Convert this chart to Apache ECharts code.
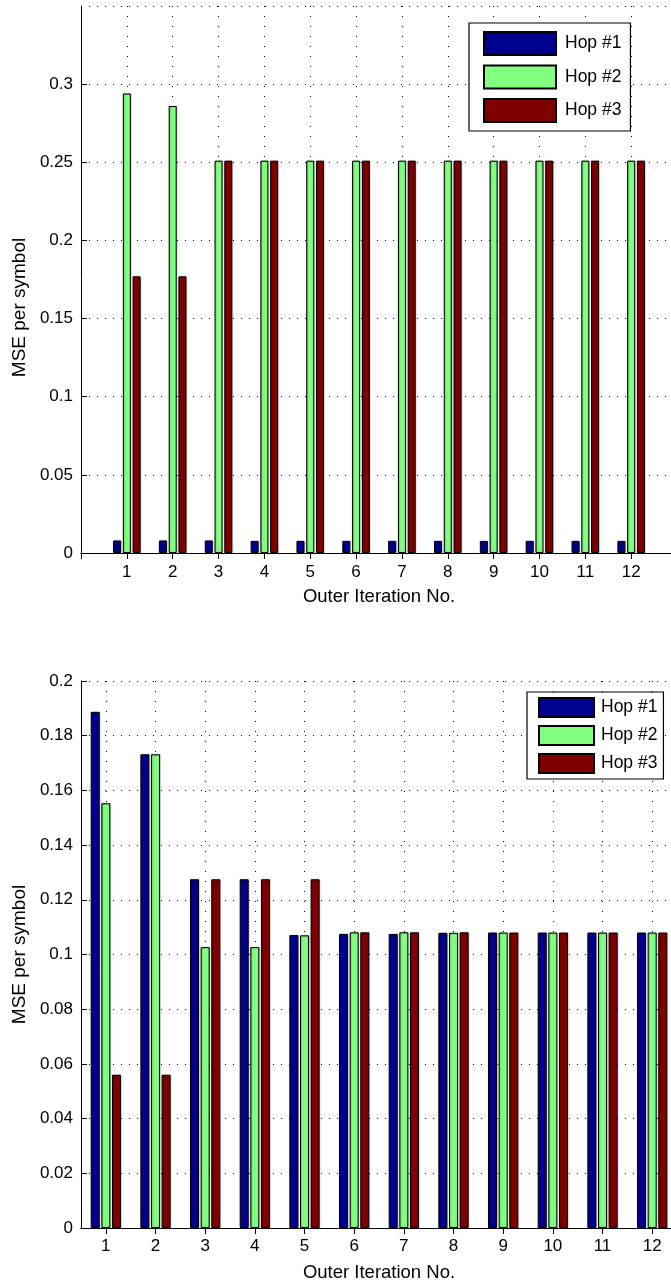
<!DOCTYPE html>
<html>
<head>
<meta charset="utf-8">
<script src="https://cdn.jsdelivr.net/npm/echarts@6/dist/echarts.min.js"></script>
<style>
  html, body { margin: 0; padding: 0; background: #fff; }
  #chart { width: 671px; height: 1286px; }
</style>
</head>
<body>
<div id="chart"></div>
<script>
// ---- data ----
const categories = ['1','2','3','4','5','6','7','8','9','10','11','12'];
const seriesNames = ['Hop #1', 'Hop #2', 'Hop #3'];

// Top chart (MSE per symbol)
const topHop1 = [0.0080, 0.0080, 0.0080, 0.0077, 0.0077, 0.0077, 0.0077, 0.0077, 0.0077, 0.0077, 0.0077, 0.0077];
const topHop2 = [0.294, 0.286, 0.251, 0.251, 0.251, 0.251, 0.251, 0.251, 0.251, 0.251, 0.251, 0.251];
const topHop3 = [0.177, 0.177, 0.251, 0.251, 0.251, 0.251, 0.251, 0.251, 0.251, 0.251, 0.251, 0.251];

// Bottom chart (MSE per symbol)
const botHop1 = [0.1887, 0.1732, 0.1275, 0.1275, 0.1071, 0.1075, 0.1075, 0.1079, 0.1080, 0.1080, 0.1080, 0.1080];
const botHop2 = [0.1553, 0.1732, 0.1027, 0.1027, 0.1070, 0.1081, 0.1081, 0.1079, 0.1080, 0.1080, 0.1080, 0.1080];
const botHop3 = [0.0560, 0.0560, 0.1275, 0.1275, 0.1275, 0.1081, 0.1081, 0.1081, 0.1080, 0.1080, 0.1080, 0.1080];

const yTitle = 'MSE per symbol';
const xTitle = 'Outer Iteration No.';

// ---- styling ----
const colors = ['#00008F', '#80FF80', '#800000'];
const FONT = '"Liberation Sans", Arial, Helvetica, sans-serif';
const gridDotH = { color: '#000', width: 1, type: [1, 7] };
const gridDotV = { color: '#000', width: 1, type: [1, 9] };

// top chart uses x-range [0,13]: pad categories with empty slots at both ends
const topCats = [''].concat(categories, ['']);
const pad = arr => ['-'].concat(arr, ['-']);

const chart = echarts.init(document.getElementById('chart'), null, { renderer: 'canvas' });

function mkSeries(name, data, idx, xi, yi, bw, gap) {
  return {
    type: 'bar', name: name, data: data,
    xAxisIndex: xi, yAxisIndex: yi,
    barWidth: bw, barGap: gap,
    itemStyle: { color: colors[idx], borderColor: '#000', borderWidth: 1,
                 shadowColor: 'rgba(0,0,0,0.35)', shadowBlur: 1.5, shadowOffsetX: 0.5 },
    emphasis: { disabled: true },
    animation: false
  };
}

const tickLabel = { color: '#000', fontFamily: FONT, fontSize: 17 };
const axisLine = { show: true, lineStyle: { color: '#000', width: 1 } };

const option = {
  animation: false,
  grid: [
    { left: 81, top: 6, width: 596, height: 547, containLabel: false, outerBoundsMode: 'none' },
    { left: 81, top: 681, width: 596, height: 547, containLabel: false, outerBoundsMode: 'none' }
  ],
  legend: [
    {
      data: seriesNames, orient: 'vertical', left: 469, top: 23,
      itemWidth: 72, itemHeight: 23, itemGap: 8.5,
      padding: [8, 9, 8, 14],
      borderColor: '#000', borderWidth: 1.2, backgroundColor: '#fff',
      icon: 'rect', selectedMode: false,
      textStyle: { color: '#000', fontFamily: FONT, fontSize: 17.5, width: 74, padding: [0, 0, 0, 4] }
    },
    {
      data: seriesNames, orient: 'vertical', left: 527, top: 692,
      itemWidth: 55, itemHeight: 19, itemGap: 7,
      padding: [5, 6, 5, 11],
      borderColor: '#000', borderWidth: 1.2, backgroundColor: '#fff',
      icon: 'rect', selectedMode: false,
      textStyle: { color: '#000', fontFamily: FONT, fontSize: 17.5, width: 58, padding: [0, 0, 0, 2] }
    }
  ],
  xAxis: [
    { // top chart bottom axis
      type: 'category', gridIndex: 0, data: topCats, boundaryGap: false, position: 'bottom',
      axisLine: axisLine,
      axisTick: { show: true, inside: true, length: 6, interval: 0, lineStyle: { color: '#000' } },
      axisLabel: Object.assign({ interval: 0, margin: 11 }, tickLabel),
      splitLine: { show: true, interval: 0, lineStyle: gridDotV },
      name: xTitle, nameLocation: 'middle', nameGap: 34,
      nameTextStyle: { color: '#000', fontFamily: FONT, fontSize: 18.5 }
    },
    { // top chart top axis (box + ticks)
      type: 'category', gridIndex: 0, data: topCats, boundaryGap: false, position: 'top',
      axisLine: axisLine,
      axisTick: { show: true, inside: true, length: 6, interval: 0, lineStyle: { color: '#000' } },
      axisLabel: { show: false }, splitLine: { show: false }
    },
    { // bottom chart bottom axis
      type: 'category', gridIndex: 1, data: categories, boundaryGap: true, position: 'bottom',
      axisLine: axisLine,
      axisTick: { show: true, inside: true, length: 6, interval: 0, alignWithLabel: true, lineStyle: { color: '#000' } },
      axisLabel: Object.assign({ interval: 0, margin: 10 }, tickLabel),
      splitLine: { show: true, interval: 0, alignWithLabel: true, lineStyle: gridDotV },
      name: xTitle, nameLocation: 'middle', nameGap: 35,
      nameTextStyle: { color: '#000', fontFamily: FONT, fontSize: 18.5 }
    },
    { // bottom chart top axis
      type: 'category', gridIndex: 1, data: categories, boundaryGap: true, position: 'top',
      axisLine: axisLine,
      axisTick: { show: true, inside: true, length: 6, interval: 0, alignWithLabel: true, lineStyle: { color: '#000' } },
      axisLabel: { show: false }, splitLine: { show: false }
    }
  ],
  yAxis: [
    {
      type: 'value', gridIndex: 0, min: 0, max: 0.35, interval: 0.05, position: 'left',
      axisLine: axisLine,
      axisTick: { show: true, inside: true, length: 6, lineStyle: { color: '#000' } },
      axisLabel: Object.assign({ margin: 8, showMaxLabel: false }, tickLabel),
      splitLine: { show: true, lineStyle: gridDotH },
      name: yTitle, nameLocation: 'middle', nameGap: 49, nameRotate: 90,
      nameTextStyle: { color: '#000', fontFamily: FONT, fontSize: 19, padding: [0, 56, 0, 0] }
    },
    {
      type: 'value', gridIndex: 0, min: 0, max: 0.35, interval: 0.05, position: 'right',
      axisLine: axisLine,
      axisTick: { show: true, inside: true, length: 6, lineStyle: { color: '#000' } },
      axisLabel: { show: false }, splitLine: { show: false }
    },
    {
      type: 'value', gridIndex: 1, min: 0, max: 0.2, interval: 0.02, position: 'left',
      axisLine: axisLine,
      axisTick: { show: true, inside: true, length: 6, lineStyle: { color: '#000' } },
      axisLabel: Object.assign({ margin: 8 }, tickLabel),
      splitLine: { show: true, lineStyle: gridDotH },
      name: yTitle, nameLocation: 'middle', nameGap: 49, nameRotate: 90,
      nameTextStyle: { color: '#000', fontFamily: FONT, fontSize: 19 }
    },
    {
      type: 'value', gridIndex: 1, min: 0, max: 0.2, interval: 0.02, position: 'right',
      axisLine: axisLine,
      axisTick: { show: true, inside: true, length: 6, lineStyle: { color: '#000' } },
      axisLabel: { show: false }, splitLine: { show: false }
    }
  ],
  series: [
    mkSeries(seriesNames[0], pad(topHop1), 0, 0, 0, 8, '22%'),
    mkSeries(seriesNames[1], pad(topHop2), 1, 0, 0, 8, '22%'),
    mkSeries(seriesNames[2], pad(topHop3), 2, 0, 0, 8, '22%'),
    mkSeries(seriesNames[0], botHop1, 0, 2, 2, 9, '18%'),
    mkSeries(seriesNames[1], botHop2, 1, 2, 2, 9, '18%'),
    mkSeries(seriesNames[2], botHop3, 2, 2, 2, 9, '18%')
  ]
};
chart.setOption(option);
</script>
</body>
</html>
